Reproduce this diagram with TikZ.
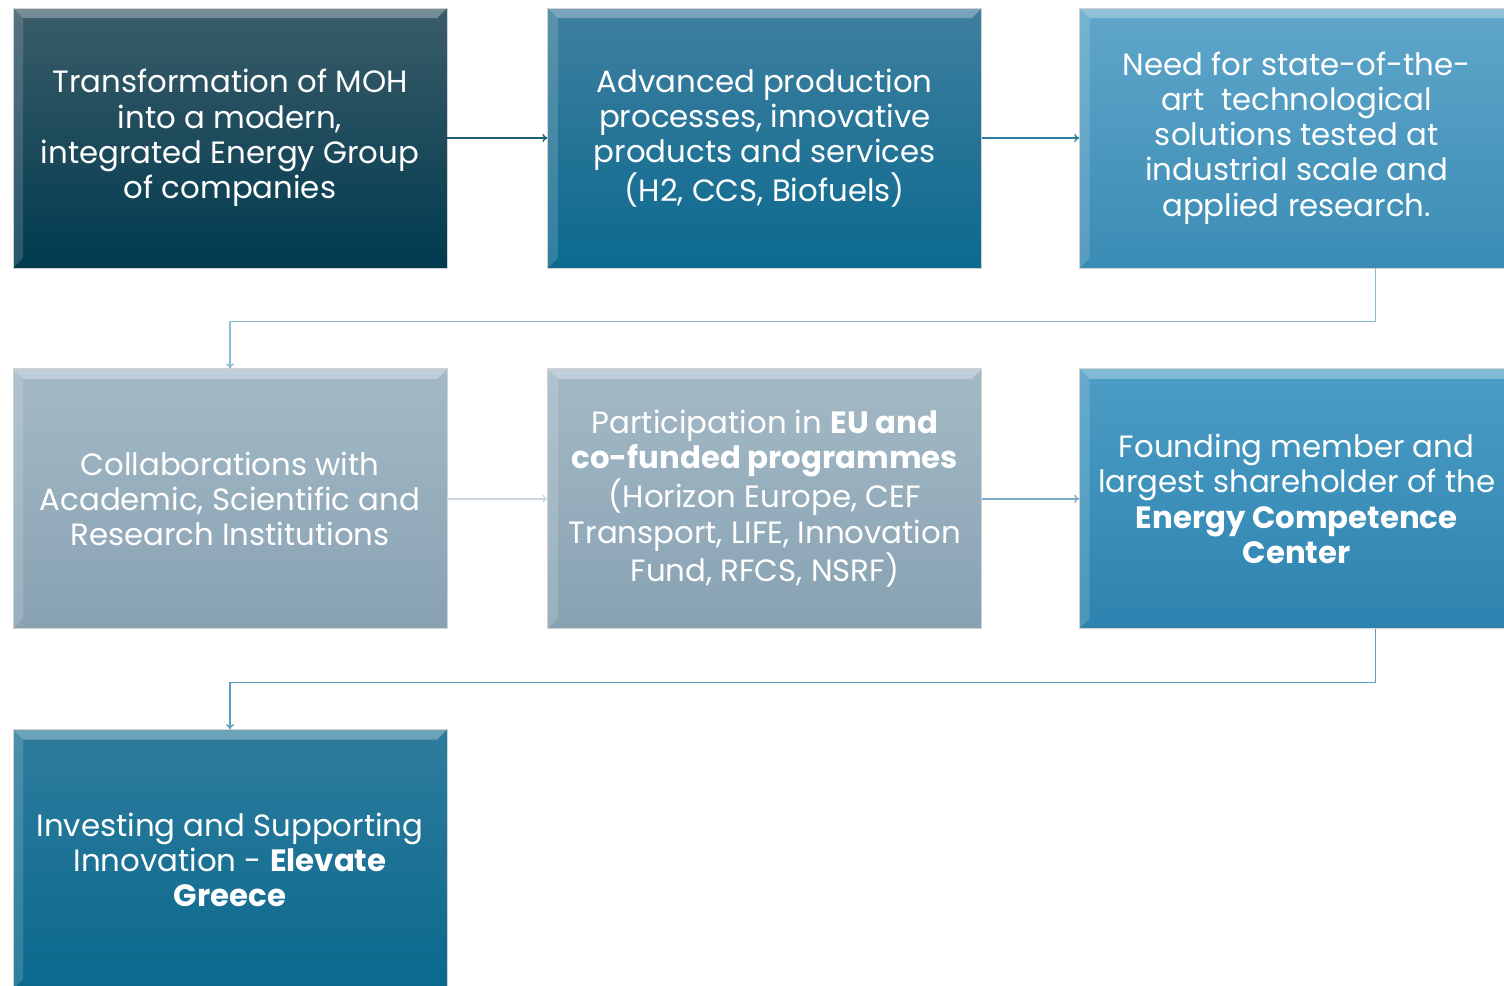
\documentclass[tikz,border=0pt]{standalone}
\usepackage{fontspec}
\setmainfont{Poppins}
\usepackage{xcolor}
\usepackage{tikz}
\usetikzlibrary{arrows.meta,positioning}

\definecolor{boxA}{HTML}{3B5C69}
\definecolor{boxAb}{HTML}{003A4F}
\definecolor{boxB}{HTML}{3F7F9F}
\definecolor{boxBb}{HTML}{0C6A8F}
\definecolor{boxC}{HTML}{60A6CA}
\definecolor{boxCb}{HTML}{3A8CB5}
\definecolor{boxD}{HTML}{A4B9C6}
\definecolor{boxDb}{HTML}{88A2B2}
\definecolor{boxF}{HTML}{4C9DC5}
\definecolor{boxFb}{HTML}{2D83AF}
\definecolor{boxG}{HTML}{2E7C9E}
\definecolor{boxGb}{HTML}{0A698D}

\begin{document}
\begin{tikzpicture}[
    x=0.5pt, y=-0.5pt,
    node distance=50pt,
    box/.style={rectangle, minimum width=217pt, minimum height=130pt, inner sep=0pt,
        align=center, text=white, draw=gray!35, line width=0.4pt,
        font=\fontsize{15.4}{17.6}\selectfont,
        path picture={
            \fill[white, opacity=0.3] (path picture bounding box.north west) -- (path picture bounding box.north east)
                -- ([xshift=-5pt, yshift=-5pt]path picture bounding box.north east)
                -- ([xshift=5pt, yshift=-5pt]path picture bounding box.north west) -- cycle;
            \fill[white, opacity=0.15] (path picture bounding box.north west) -- ([xshift=5pt, yshift=-5pt]path picture bounding box.north west)
                -- ([xshift=5pt, yshift=5pt]path picture bounding box.south west) -- (path picture bounding box.south west) -- cycle;
        }},
    link/.style={-{To[length=2.5pt, width=4pt]}, line width=0.7pt}
]
    \useasboundingbox (0,0) rectangle (1504,985);

    % First row
    \node[box, top color=boxA, bottom color=boxAb] (moh) at (230,138)
        {Transformation of MOH\\into a modern,\\integrated Energy Group\\of companies};
    \node[box, top color=boxB, bottom color=boxBb, right=of moh] (adv)
        {Advanced production\\processes, innovative\\products and services\\(H2, CCS, Biofuels)};
    \node[box, top color=boxC, bottom color=boxCb, right=48.5pt of adv] (need)
        {Need for state-of-the-\\art\ \ technological\\solutions tested at\\industrial scale and\\applied research.};

    % Second row
    \node[box, top color=boxD, bottom color=boxDb, below=of moh] (collab)
        {Collaborations with\\Academic, Scientific and\\Research Institutions};
    \node[box, top color=boxD, bottom color=boxDb, right=of collab] (eu)
        {Participation in \textbf{EU and}\\\textbf{co-funded programmes}\\(Horizon Europe, CEF\\Transport, LIFE, Innovation\\Fund, RFCS, NSRF)};
    \node[box, top color=boxF, bottom color=boxFb, right=48.5pt of eu] (ecc)
        {Founding member and\\largest shareholder of the\\\textbf{Energy Competence}\\\textbf{Center}};

    % Third row
    \node[box, top color=boxG, bottom color=boxGb, below=of collab] (elev)
        {Investing and Supporting\\Innovation - \textbf{Elevate}\\\textbf{Greece}};

    % Links
    \draw[link, color={rgb,255:red,31;green,95;blue,114}] (moh) -- (adv);
    \draw[link, color={rgb,255:red,42;green,127;blue,160}] (adv) -- (need);
    \draw[link, color={rgb,255:red,140;green,188;blue,212}] ([xshift=39.5pt]need.south) -- ++(0,53) -| (collab.north);
    \draw[link, color={rgb,255:red,204;green,214;blue,222}] (collab) -- (eu);
    \draw[link, color={rgb,255:red,122;green,170;blue,196}] (eu) -- (ecc);
    \draw[link, color={rgb,255:red,90;green,159;blue,192}] ([xshift=39.5pt]ecc.south) -- ++(0,53) -| (elev.north);
\end{tikzpicture}
\end{document}
